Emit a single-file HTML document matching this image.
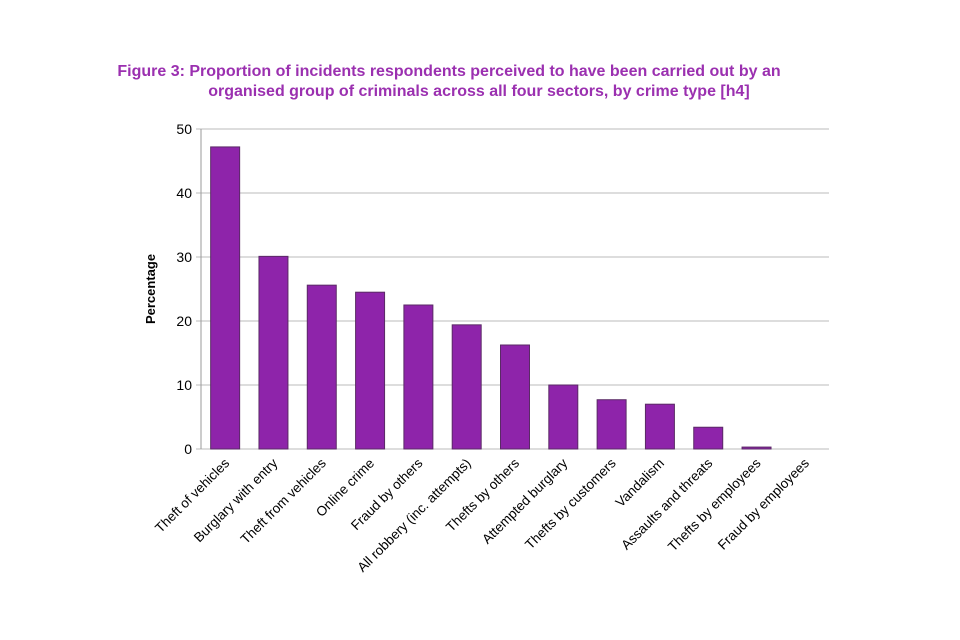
<!DOCTYPE html>
<html><head><meta charset="utf-8"><style>
body{margin:0;background:#fff;}
svg{display:block;font-family:"Liberation Sans",Arial,sans-serif;}
</style></head><body>
<svg id="c" width="960" height="640" viewBox="0 0 960 640">
<text x="449" y="76" text-anchor="middle" font-size="16" font-weight="bold" fill="#9b30b0">Figure 3: Proportion of incidents respondents perceived to have been carried out by an</text>
<text x="479" y="96" text-anchor="middle" font-size="16" font-weight="bold" fill="#9b30b0">organised group of criminals across all four sectors, by crime type [h4]</text>
<text transform="translate(155,289) rotate(-90)" text-anchor="middle" font-size="13" font-weight="bold" fill="#000">Percentage</text>
<g id="grid"></g><g id="bars"></g><g id="labels"></g>
</svg>
<script>
const categories=["Theft of vehicles","Burglary with entry","Theft from vehicles","Online crime","Fraud by others","All robbery (inc. attempts)","Thefts by others","Attempted burglary","Thefts by customers","Vandalism","Assaults and threats","Thefts by employees","Fraud by employees"];
const values=[47.2,30.1,25.6,24.5,22.5,19.4,16.25,10,7.7,7.0,3.4,0.3,0];
const yTicks=[0,10,20,30,40,50];
const NS="http://www.w3.org/2000/svg";
const x0=201,x1=829,yTop=129,yBot=449,yMax=50;
const band=(x1-x0)/categories.length;
const y=v=>yBot-(v/yMax)*(yBot-yTop);
const xc=i=>x0+band*(i+0.5);
function mk(t,a,p){const e=document.createElementNS(NS,t);for(const k in a)e.setAttribute(k,a[k]);p.appendChild(e);return e;}
const g=document.getElementById('grid'),b=document.getElementById('bars'),l=document.getElementById('labels');
yTicks.forEach(t=>{
 const ln=mk('line',{x1:x0-5,x2:x1,y1:y(t),y2:y(t),stroke:'#bbb','stroke-width':1},g);
 
 
 const tx=mk('text',{x:x0-9,y:y(t)+5,'text-anchor':'end','font-size':14,fill:'#000'},g);
 tx.textContent=t;
 
 
});
const ax=mk('line',{x1:x0,x2:x0,y1:yTop,y2:yBot,stroke:'#999','stroke-width':1},g);


const bw=band*0.6;
values.forEach((v,i)=>{
 const r=mk('rect',{x:xc(i)-bw/2,y:y(v),width:bw,height:yBot-y(v),fill:'#8e24aa',stroke:'#5a2a66','stroke-width':1},b);
 
 
 const t=mk('text',{x:xc(i)+5,y:yBot+15,'text-anchor':'end','font-size':13.5,fill:'#000',transform:`rotate(-45 ${xc(i)+5} ${yBot+15})`},l);
 t.textContent=categories[i];
 
 
});
</script>
</body></html>
